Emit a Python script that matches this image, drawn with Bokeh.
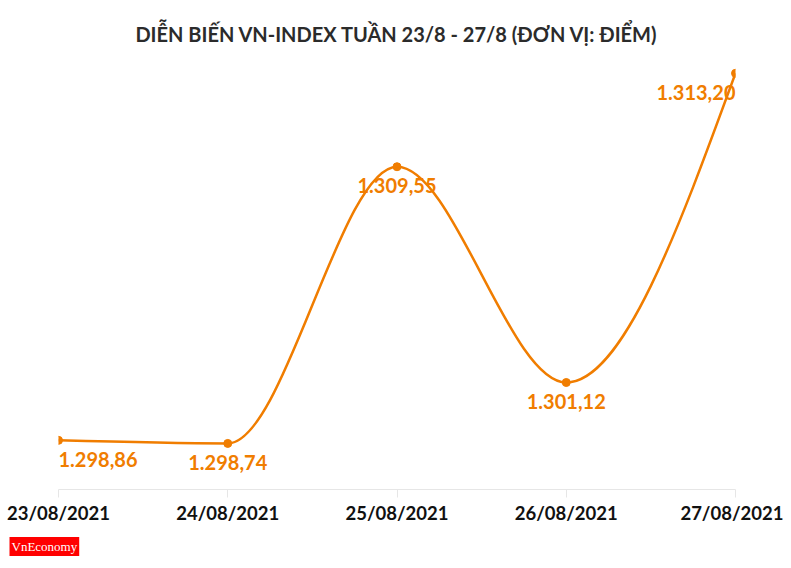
import numpy as np
from bokeh.plotting import figure
from bokeh.models import Range1d, FixedTicker, Title, ColumnDataSource
from bokeh.core.properties import value
from bokeh.embed import file_html
from bokeh.resources import INLINE

# ---- data ----
dates = ["23/08/2021", "24/08/2021", "25/08/2021", "26/08/2021", "27/08/2021"]
values = [1298.86, 1298.74, 1309.55, 1301.12, 1313.20]
title_text = "DIỄN BIẾN VN-INDEX TUẦN 23/8 - 27/8 (ĐƠN VỊ: ĐIỂM)"
logo_text = "VnEconomy"


def fmt(v):
    s = f"{v:,.2f}"
    return s.replace(",", "X").replace(".", ",").replace("X", ".")


labels = [fmt(v) for v in values]
xs = list(range(len(dates)))
aligns = ["left"] + ["center"] * (len(xs) - 2) + ["right"]

ORANGE = "#F07D00"
FONT = "Lato"

# monotone cubic (d3 curveMonotoneX style) bezier control points
x = np.array(xs, float)
y = np.array(values, float)
h = np.diff(x)
s = np.diff(y) / h
t = np.zeros(len(x))
for i in range(1, len(x) - 1):
    if s[i - 1] * s[i] > 0:
        pp = (s[i - 1] * h[i] + s[i] * h[i - 1]) / (h[i - 1] + h[i])
        t[i] = (np.sign(s[i - 1]) + np.sign(s[i])) * min(abs(s[i - 1]), abs(s[i]), 0.5 * abs(pp))
t[0] = (3 * s[0] - t[1]) / 2
t[-1] = (3 * s[-1] - t[-2]) / 2
bez = dict(
    x0=x[:-1], y0=y[:-1], x1=x[1:], y1=y[1:],
    cx0=x[:-1] + h / 3, cy0=y[:-1] + h * t[:-1] / 3,
    cx1=x[1:] - h / 3, cy1=y[1:] - h * t[1:] / 3,
)

p = figure(
    width=783, height=566,
    output_backend="svg", toolbar_location=None,
    x_range=Range1d(0, 4), y_range=Range1d(1296.94, 1313.70),
    min_border_left=58, min_border_right=48, min_border_top=60, min_border_bottom=77,
)
p.outline_line_color = None
p.grid.visible = False
p.yaxis.visible = False

p.title.text = title_text
p.title.align = "center"
p.title.text_font = FONT
p.title.text_font_style = "bold"
p.title.text_font_size = "20px"
p.title.text_color = "#2b2b2b"
p.title.standoff = 30

ax = p.xaxis[0]
ax.ticker = FixedTicker(ticks=xs)
ax.major_label_overrides = {i: d for i, d in zip(xs, dates)}
ax.axis_line_color = "#e6e6e6"
ax.major_tick_line_color = "#e6e6e6"
ax.minor_tick_line_color = None
ax.major_tick_in = 0
ax.major_tick_out = 8
ax.major_label_standoff = 4
ax.major_label_text_font = FONT
ax.major_label_text_font_style = "bold"
ax.major_label_text_font_size = "18.5px"
ax.major_label_text_color = "#111111"

p.bezier(source=ColumnDataSource(bez), x0="x0", y0="y0", x1="x1", y1="y1",
         cx0="cx0", cy0="cy0", cx1="cx1", cy1="cy1", line_color=ORANGE, line_width=2.5)
p.scatter(xs, values, size=8, color=ORANGE)

src = ColumnDataSource(dict(x=xs, y=values, text=labels, align=aligns))
p.text(x="x", y="y", text="text", source=src, text_align="align", text_baseline="middle",
       y_offset=19, text_font=value(FONT), text_font_style="bold", text_font_size="20px",
       text_color=ORANGE)

logo = Title(text=logo_text, align="left", offset=-49, standoff=17,
             text_font="Liberation Serif", text_font_size="13px", text_font_style="normal",
             text_color="white", background_fill_color="#ff0000", padding=2)
p.add_layout(logo, "below")

open("out.html", "w").write(file_html(p, INLINE))
